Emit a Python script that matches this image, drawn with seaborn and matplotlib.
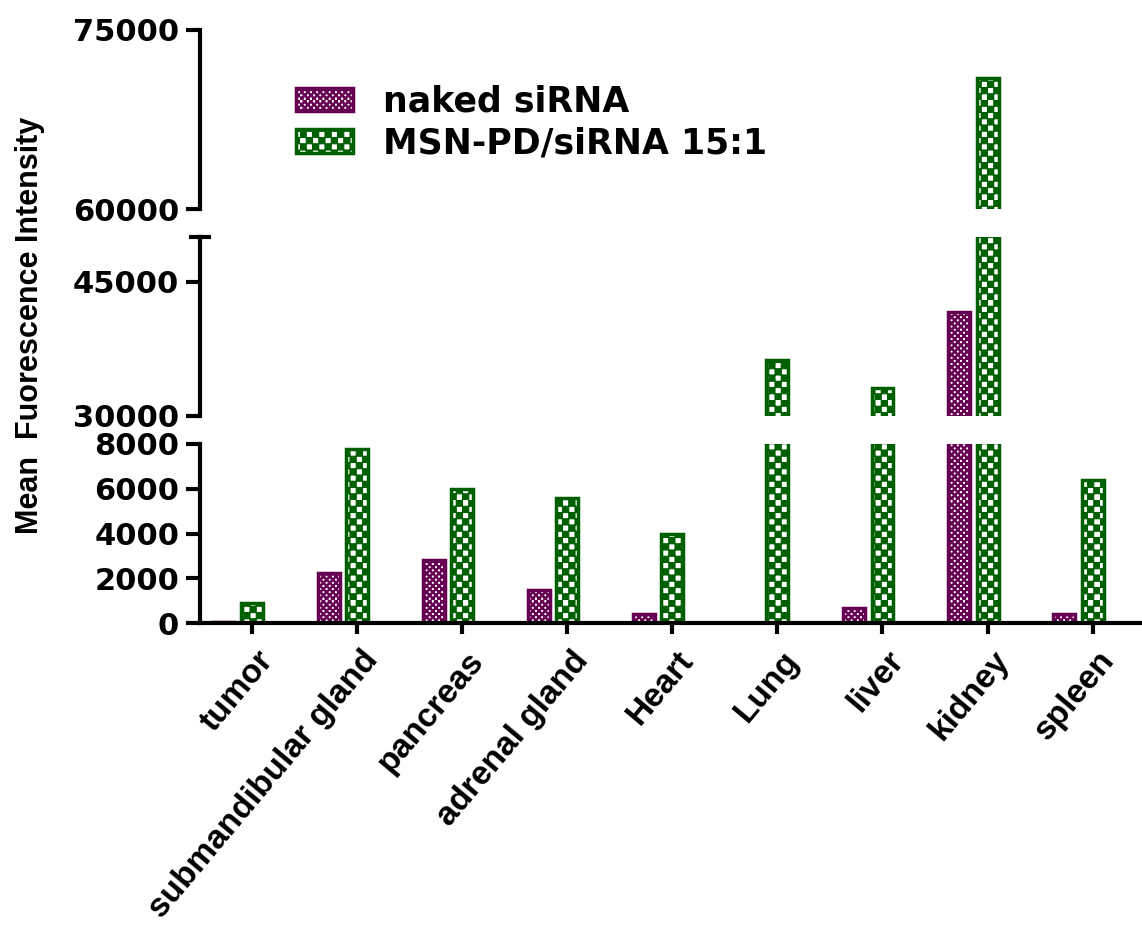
import numpy as np
import pandas as pd
import seaborn as sns
import matplotlib
matplotlib.use('Agg')
import matplotlib.pyplot as plt
import matplotlib.hatch as mhatch
import matplotlib.patches as mpatches
import matplotlib.transforms as mtransforms
from matplotlib.path import Path

ORGANS = ['tumor', 'submandibular gland', 'pancreas', 'adrenal gland', 'Heart',
          'Lung', 'liver', 'kidney', 'spleen']
NAKED = [50, 2240, 2800, 1470, 400, np.nan, 670, 41600, 410]
MSN = [875, 7760, 5990, 5600, 4000, 36300, 33100, 71000, 6400]
GROUPS = ['naked siRNA', 'MSN-PD/siRNA 15:1']

# broken y axis: top, middle, bottom segment
Y_RANGES = [(60000, 75000), (30000, 50000), (0, 8000)]
Y_TICKS = [[60000, 75000], [30000, 45000], [0, 2000, 4000, 6000, 8000]]
BREAK_CAPS = [[60000], [30000, 50000], [8000]]

COLORS = ['#660052', '#005f00']
HATCHES = ['********', '****']
BAR_WIDTH = 0.542


class CheckerHatch(mhatch.HatchPatternBase):
    # checkerboard squares, '*' repeated sets the cell density
    def __init__(self, hatch, density):
        self.k = 4 * hatch.count('*')
        self.cells = [(i, j) for i in range(self.k) for j in range(self.k) if (i + j) % 2 == 0]
        self.num_vertices = len(self.cells) * 5

    def set_vertices_and_codes(self, vertices, codes):
        s = 1.0 / self.k
        for n, (i, j) in enumerate(self.cells):
            x0, y0 = i * s, j * s
            vertices[5 * n:5 * n + 5] = [(x0, y0), (x0 + s, y0), (x0 + s, y0 + s), (x0, y0 + s), (x0, y0)]
            codes[5 * n:5 * n + 5] = [Path.MOVETO, Path.LINETO, Path.LINETO, Path.LINETO, Path.CLOSEPOLY]


mhatch._hatch_types = [t for t in mhatch._hatch_types if t is not mhatch.Stars] + [CheckerHatch]

df = pd.DataFrame({
    'organ': ORGANS * 2,
    'group': [GROUPS[0]] * len(ORGANS) + [GROUPS[1]] * len(ORGANS),
    'value': NAKED + MSN,
})

sns.set_style('white')
plt.rcParams['font.family'] = ['DejaVu Sans']
plt.rcParams['font.weight'] = 'bold'
plt.rcParams['hatch.linewidth'] = 0.8
for key in ['text.color', 'axes.labelcolor', 'xtick.color', 'ytick.color']:
    plt.rcParams[key] = 'black'

fig = plt.figure(figsize=(11.42, 9.31), dpi=100)
left, width, height = 0.1751, 0.823, 0.1923
bottoms = [0.7755, 0.5532, 0.3308]
axes = [fig.add_axes([left, b, width, height]) for b in bottoms]
offset = BAR_WIDTH / 4

for ax, ylim, yticks, caps in zip(axes, Y_RANGES, Y_TICKS, BREAK_CAPS):
    sns.barplot(data=df, x='organ', y='value', hue='group', order=ORGANS, hue_order=GROUPS,
                palette=COLORS, saturation=1, width=BAR_WIDTH, gap=0.23, errorbar=None,
                legend=False, ax=ax)
    for container, color, hatch in zip(ax.containers, COLORS, HATCHES):
        for bar in container:
            bar.set_facecolor('white')
            bar.set_edgecolor(color)
            bar.set_hatch(hatch)
            bar.set_linewidth(2.5)
    ax.set_ylim(*ylim)
    ax.set_xlim(offset - 0.495, offset + 8.449)
    ax.set_yticks(yticks)
    ax.set_yticks(caps, minor=True)
    ax.tick_params(axis='y', which='both', left=True, width=3, color='black')
    ax.tick_params(axis='y', which='major', direction='out', length=10, labelsize=22,
                   labelcolor='black', pad=5)
    ax.tick_params(axis='y', which='minor', direction='inout', length=16)
    ax.set_ylabel('')
    ax.set_xlabel('')
    last = ax is axes[-1]
    sns.despine(ax=ax, bottom=not last)
    for side in ['left', 'bottom']:
        ax.spines[side].set_linewidth(3)
        ax.spines[side].set_color('black')
    if not last:
        ax.set_xticks([])

bottom_ax = axes[-1]
bottom_ax.set_xticks([i + offset for i in range(len(ORGANS))], ORGANS)
bottom_ax.tick_params(axis='x', bottom=True, direction='out', length=8, width=3, pad=8,
                      labelcolor='black')
for lab in bottom_ax.get_xticklabels():
    lab.set_rotation(50)
    lab.set_ha('right')
    lab.set_va('top')
    lab.set_rotation_mode('anchor')
    lab.set_fontfamily(['Liberation Sans', 'DejaVu Sans'])
    lab.set_fontsize(24)
    lab.set_transform(lab.get_transform() + mtransforms.ScaledTranslation(0.04, 0, fig.dpi_scale_trans))

fig.text(0.026, 0.651, 'Mean  Fuorescence Intensity', rotation=90, ha='center', va='center',
         fontsize=22, fontweight='bold', family=['Liberation Sans', 'DejaVu Sans'])

handles = [mpatches.Patch(facecolor='white', edgecolor=c, hatch=h, linewidth=2.5)
           for c, h in zip(COLORS, HATCHES)]
fig.legend(handles, GROUPS, loc='upper left', bbox_to_anchor=(0.259, 0.909), frameon=False,
           prop={'weight': 'bold', 'size': 25, 'family': 'DejaVu Sans'},
           handlelength=1.64, handleheight=0.66, handletextpad=0.86, labelspacing=0.22,
           borderpad=0, borderaxespad=0)

fig.savefig('out.png', dpi=100)
